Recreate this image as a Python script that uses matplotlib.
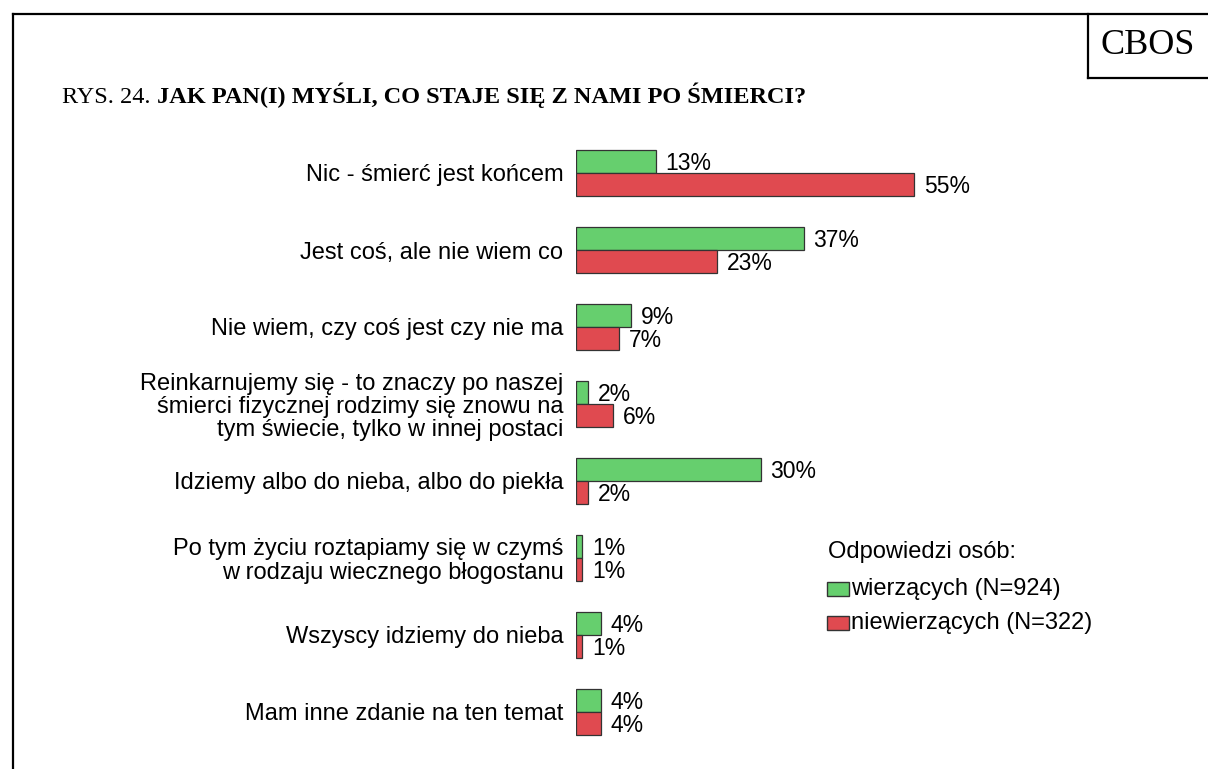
import matplotlib.pyplot as plt
import matplotlib.patches as mpatches
from matplotlib.lines import Line2D
import numpy as np

# data
categories = [
    "Nic - śmierć jest końcem",
    "Jest coś, ale nie wiem co",
    "Nie wiem, czy coś jest czy nie ma",
    "Reinkarnujemy się - to znaczy po naszej\nśmierci fizycznej rodzimy się znowu na\ntym świecie, tylko w innej postaci",
    "Idziemy albo do nieba, albo do piekła",
    "Po tym życiu roztapiamy się w czymś\nw rodzaju wiecznego błogostanu",
    "Wszyscy idziemy do nieba",
    "Mam inne zdanie na ten temat",
]
believers = [13, 37, 9, 2, 30, 1, 4, 4]
nonbelievers = [55, 23, 7, 6, 2, 1, 1, 4]
series_names = ["wierzących (N=924)", "niewierzących (N=322)"]

green = "#66CF6E"
red = "#E04A50"
edge = "#333333"
sans = "Liberation Sans"
serif = "Liberation Serif"
fs = 17

W, H = 1208, 769
fig = plt.figure(figsize=(W / 100, H / 100), dpi=100)

# pixel coords -> figure fraction
def fx(px):
    return px / W

def fy(py):
    return 1 - py / H

# outer frame and CBOS box
fig.add_artist(Line2D([fx(13), fx(13)], [fy(14), fy(769)], color="black", lw=1.6))
fig.add_artist(Line2D([fx(13), fx(1208)], [fy(14), fy(14)], color="black", lw=1.6))
fig.add_artist(Line2D([fx(1088), fx(1088)], [fy(14), fy(78)], color="black", lw=1.6))
fig.add_artist(Line2D([fx(1088), fx(1208)], [fy(78), fy(78)], color="black", lw=1.6))
fig.text(fx(1148), fy(46), "CBOS", family=serif, fontsize=26, ha="center", va="center")

t1 = fig.text(fx(62), fy(103), "RYS. 24. ", family=serif, fontsize=17.5, ha="left", va="baseline")
fig.canvas.draw()
bb = t1.get_window_extent()
fig.text(bb.x1 / W, fy(103), "JAK PAN(I) MYŚLI, CO STAJE SIĘ Z NAMI PO ŚMIERCI?",
         family=serif, fontsize=17.5, fontweight="bold", ha="left", va="baseline")

# bar axes
x0 = 576
px_per_pct = 6.15
top_c, step = 173, 77.0
y_top = top_c - step / 2
y_bot = top_c + 7.5 * step
ax = fig.add_axes([fx(x0), fy(y_bot), 100 * px_per_pct / W, (y_bot - y_top) / H])
ax.set_xlim(0, 100)
ax.set_ylim(7.5, -0.5)

n = len(categories)
y = np.arange(n)
h = 23 / step
ax.barh(y - h / 2, believers, height=h, color=green, edgecolor=edge, linewidth=0.9)
ax.barh(y + h / 2, nonbelievers, height=h, color=red, edgecolor=edge, linewidth=0.9)

for i in range(n):
    ax.annotate(f"{believers[i]}%", (believers[i], y[i] - h / 2), xytext=(7, -1.5),
                textcoords="offset points", va="center", ha="left",
                family=sans, fontsize=16.5)
    ax.annotate(f"{nonbelievers[i]}%", (nonbelievers[i], y[i] + h / 2), xytext=(7, -1.5),
                textcoords="offset points", va="center", ha="left",
                family=sans, fontsize=16.5)

ax.set_yticks(y)
ax.set_yticklabels(categories, family=sans, fontsize=fs, linespacing=1.07)
ax.tick_params(axis="y", length=0, pad=9)
ax.set_xticks([])
for s in ax.spines.values():
    s.set_visible(False)

# legend
fig.text(fx(828), fy(552), "Odpowiedzi osób:", family=sans, fontsize=fs, ha="left", va="center")
legend_colors = [green, red]
legend_y = [589, 623]
for name, col, ly in zip(series_names, legend_colors, legend_y):
    fig.add_artist(mpatches.Rectangle((fx(827), fy(ly + 7)), 22 / W, 14 / H,
                                      facecolor=col, edgecolor=edge, linewidth=1.0))
    fig.text(fx(851), fy(ly), name, family=sans, fontsize=fs, ha="left", va="center")

fig.savefig("out.png", dpi=100)
